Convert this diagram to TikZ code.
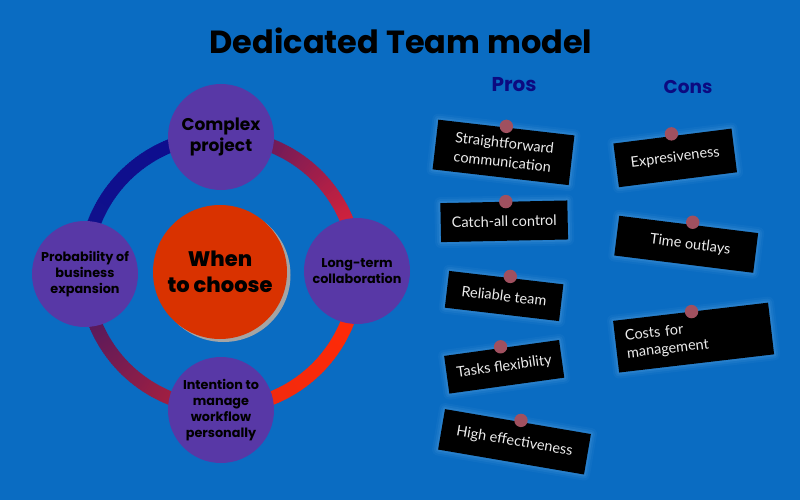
\documentclass[tikz,border=0pt]{standalone}
\usepackage{fontspec}
\setmainfont{Poppins}
\newfontfamily\notefont{Lato}
\newfontfamily\heavyfont{Poppins ExtraBold}
\usetikzlibrary{shadows}

\definecolor{bgblue}{HTML}{0A6CC2}
\definecolor{bubble}{HTML}{5838A6}
\definecolor{hubred}{HTML}{D93200}
\definecolor{hubshade}{HTML}{A4A4A4}
\definecolor{navy}{HTML}{0C0A80}
\definecolor{pinred}{HTML}{A0505F}
\definecolor{glow}{HTML}{8CC6F6}
\definecolor{notetext}{HTML}{ECECEC}
% ring colours, one pair per quarter (start / end)
\definecolor{ringA}{HTML}{FF2A06}
\definecolor{ringB}{HTML}{F22A0E}
\definecolor{ringC}{HTML}{A81F3E}
\definecolor{ringD}{HTML}{541A5E}
\definecolor{ringE}{HTML}{10108C}
\definecolor{ringF}{HTML}{0E0E8E}
\definecolor{ringG}{HTML}{661A5C}
\definecolor{ringH}{HTML}{D8223A}

\tikzset{
  ringline/.style={line width=13.5pt, line cap=butt},
  bubble/.style={circle, fill=bubble, minimum size=106pt, inner sep=0pt,
    align=center, text=black, font=\bfseries\fontsize{12.8}{16}\selectfont},
  hubdisk/.style={circle, fill=hubred, minimum size=134pt, inner sep=0pt,
    align=center, text=black, font=\heavyfont\fontsize{21}{26}\selectfont,
    drop shadow={shadow xshift=3.5pt, shadow yshift=-3pt, fill=hubshade, opacity=1}},
  heading/.style={anchor=base, text=navy, font=\bfseries\fontsize{20}{24}\selectfont},
  note/.style={fill=black, text=notetext, inner sep=0pt, align=center, line join=round,
    font=\notefont\fontsize{14.5}{19}\selectfont,
    preaction={draw=glow, line width=12pt, draw opacity=0.05},
    preaction={draw=glow, line width=8pt, draw opacity=0.08},
    preaction={draw=glow, line width=4pt, draw opacity=0.12}},
  pin/.style={fill=pinred},
}

\begin{document}
\begin{tikzpicture}[x=1pt, y=-1pt]
\fill[bgblue] (0,0) rectangle (800,500);
\useasboundingbox (0,0) rectangle (800,500);

% title
\node[anchor=base, font=\bfseries\fontsize{32}{36}\selectfont] (title) at (401,53.5) {Dedicated Team model};

% coloured ring behind the four bubbles
\coordinate (c) at (221,272);
\foreach \q/\ca/\cb in {0/ringA/ringB, 90/ringC/ringD, 180/ringE/ringF, 270/ringG/ringH}{
  \foreach \i in {0,...,54}{
    \pgfmathtruncatemacro\p{100-100*\i/54}
    \draw[ringline, draw=\ca!\p!\cb] (c) ++({\q+17+\i}:136)
      arc[start angle={\q+17+\i}, end angle={\q+18.4+\i}, radius=136];
  }
}

% bubbles on the ring
\node[bubble, font=\bfseries\fontsize{17}{20.5}\selectfont] (top) at (221,137) {Complex\\project};
\node[bubble] (left) at (85,274) {Probability of\\business\\expansion};
\node[bubble] (right) at (357,271) {Long-term\\collaboration};
\node[bubble] (bottom) at (221,410) {Intention to\\manage\\workflow\\personally};

% centre
\node[hubdisk] (hub) at (220,272) {When\\to choose};

% column headings
\node[heading] (pros) at (514,91.7) {Pros};
\node[heading, font=\bfseries\fontsize{18.5}{22}\selectfont] (cons) at (688,94) {Cons};

% pros notes
\node[note, rotate=-6.6, minimum width=137pt, minimum height=50pt] (n1) at (503.5,152.4) {Straightforward\\communication};
\node[note, rotate=1.2, minimum width=127pt, minimum height=39pt] (n2) at (504.2,221.3) {Catch-all control};
\node[note, rotate=-6.7, minimum width=115pt, minimum height=37pt] (n3) at (504.1,296) {Reliable team};
\node[note, rotate=7.9, minimum width=116pt, minimum height=38pt] (n4) at (504.2,366.8) {Tasks flexibility};
\node[note, rotate=-9.7, minimum width=148pt, minimum height=41pt] (n5) at (514.5,441.8) {High effectiveness};

% cons notes
\node[note, rotate=7.2, minimum width=119pt, minimum height=44pt] (n6) at (675.2,157.9) {Expresiveness};
\node[note, rotate=-7.1, minimum width=140pt, minimum height=40pt] (n7) at (686.2,244.3) {\hspace*{8pt}Time outlays};
\node[note, rotate=6.7, text width=136pt, inner xsep=10pt, align=left, minimum height=52pt,
  font=\notefont\fontsize{14.5}{17.5}\selectfont] (n8) at (693.6,337.6) {Costs for\\management};

% pins
\fill[pin] ([shift={(0,-1)}]n1.north) circle (6.7);
\fill[pin] ([shift={(2,0)}]n2.north) circle (6.7);
\fill[pin] ([shift={(4,-1)}]n3.north) circle (6.7);
\fill[pin] ([shift={(-1,-1)}]n4.north) circle (6.7);
\fill[pin] ([shift={(3,-1)}]n5.north) circle (6.7);
\fill[pin] ([shift={(-1,-2)}]n6.north) circle (6.7);
\fill[pin] ([shift={(4,-2)}]n7.north) circle (6.7);
\fill[pin] ([shift={(1,0)}]n8.north) circle (6.7);
\end{tikzpicture}
\end{document}
